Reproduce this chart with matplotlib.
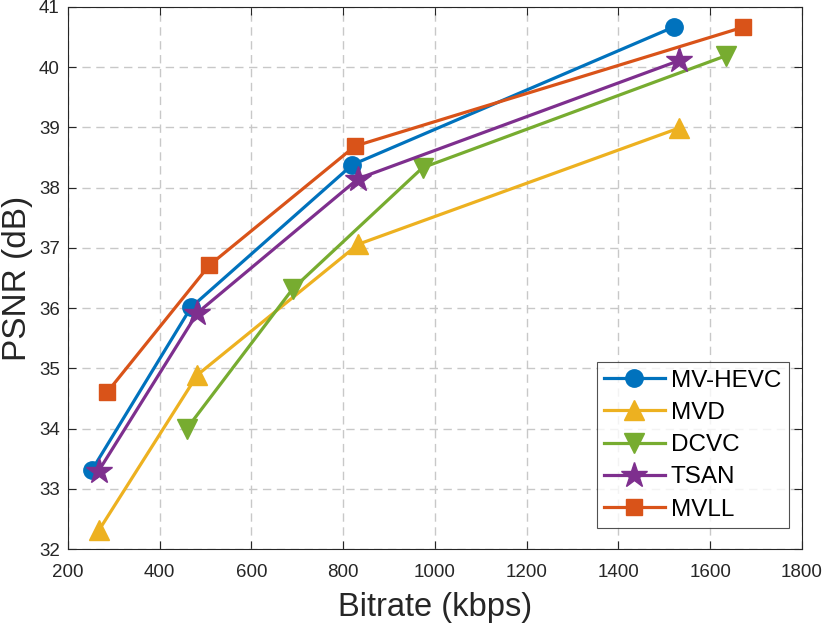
import matplotlib
matplotlib.use("Agg")
import matplotlib.pyplot as plt

plt.rcParams['font.family'] = ['Liberation Sans', 'DejaVu Sans']

names = ["MV-HEVC", "MVD", "DCVC", "TSAN", "MVLL"]
mvhevc_x = [252, 468, 820, 1522]
mvhevc_y = [33.31, 36.01, 38.38, 40.67]
mvd_x = [268, 482, 833, 1533]
mvd_y = [32.32, 34.89, 37.06, 38.99]
dcvc_x = [459, 690, 973, 1635]
dcvc_y = [34.0, 36.32, 38.33, 40.19]
tsan_x = [267, 482, 833, 1533]
tsan_y = [33.3, 35.92, 38.15, 40.11]
mvll_x = [286, 508, 826, 1671]
mvll_y = [34.61, 36.71, 38.69, 40.66]

xticks = [200, 400, 600, 800, 1000, 1200, 1400, 1600, 1800]
yticks = [32, 33, 34, 35, 36, 37, 38, 39, 40, 41]

series = [
    (mvhevc_x, mvhevc_y, '#0072BD', 'o', 12.5),
    (mvd_x, mvd_y, '#EDB120', '^', 15),
    (dcvc_x, dcvc_y, '#77AC30', 'v', 15),
    (tsan_x, tsan_y, '#7E2F8E', '*', 19),
    (mvll_x, mvll_y, '#D95319', 's', 11.5),
]

fig = plt.figure(figsize=(8.3, 6.26), dpi=100)
ax = fig.add_axes([0.082, 0.123, 0.884, 0.866])
for (x, y, c, m, ms), n in zip(series, names):
    ax.plot(x, y, color=c, marker=m, markersize=ms, linewidth=2.3, label=n)

ax.set_xlim(200, 1800)
ax.set_ylim(32, 41)
ax.set_xticks(xticks)
ax.set_yticks(yticks)
ax.tick_params(direction='in', top=True, right=True, labelsize=13.5, length=6,
               color='#262626', labelcolor='#262626', width=0.8)
ax.tick_params(axis='x', pad=11)
ax.tick_params(axis='y', pad=6)
for s in ax.spines.values():
    s.set_color('#262626')
    s.set_linewidth(0.8)
ax.grid(True, linestyle=(0, (6, 4)), color='#c8c8c8', linewidth=1.0)
ax.set_axisbelow(True)
ax.set_xlabel('Bitrate (kbps)', fontsize=23.5, color='#262626', labelpad=8)
ax.set_ylabel('PSNR (dB)', fontsize=24, color='#262626', labelpad=4)

leg = ax.legend(loc='lower right', fontsize=17.5, frameon=True, fancybox=False,
                edgecolor='#262626', handlelength=2.5, borderpad=0.3,
                labelspacing=0.42, handletextpad=0.25, borderaxespad=0,
                bbox_to_anchor=(0.982, 0.039))
leg.get_frame().set_linewidth(0.8)

fig.savefig('out.png', dpi=100)
